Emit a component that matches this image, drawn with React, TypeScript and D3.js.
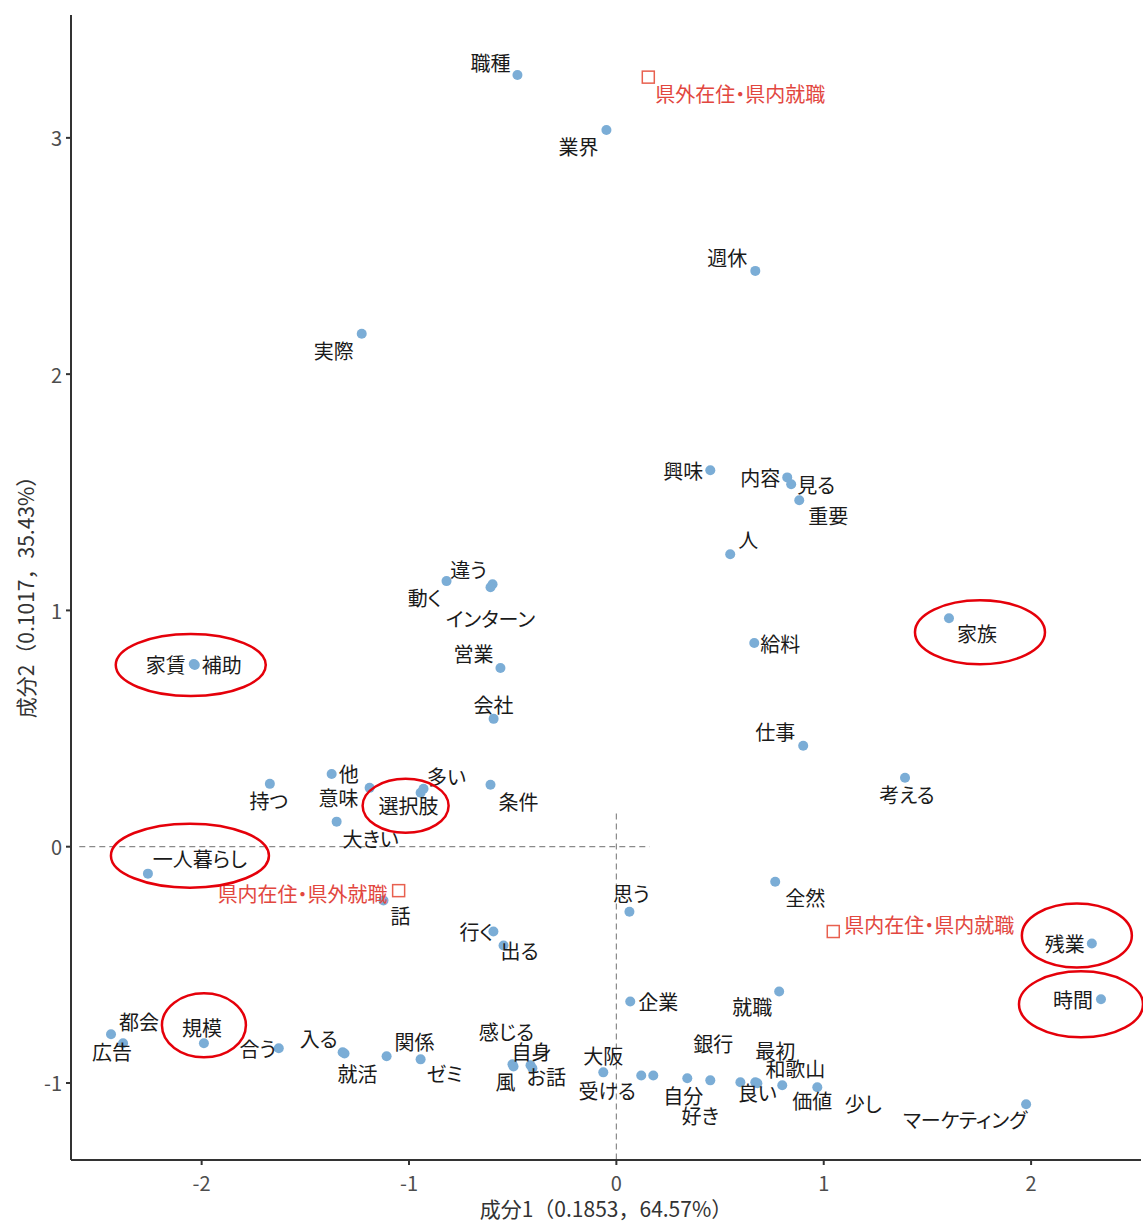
import React from "react";
import * as d3 from "d3";

// 抽出語（成分1, 成分2）
const words = [
  "職種", "業界", "週休", "実際", "興味", "内容", "見る", "重要", "人", "動く",
  "違う", "インターン", "営業", "会社", "給料", "家族", "家賃", "補助", "仕事", "考える",
  "持つ", "他", "意味", "選択肢", "多い", "条件", "大きい", "一人暮らし", "話", "思う",
  "全然", "残業", "時間", "行く", "出る", "企業", "就職", "広告", "都会", "規模",
  "合う", "入る", "就活", "関係", "ゼミ", "感じる", "風", "自身", "お話", "大阪",
  "受ける", "自分", "銀行", "好き", "良い", "最初", "和歌山", "価値", "少し", "マーケティング",
];
const dim1 = [
  -0.477, -0.048, 0.670, -1.228, 0.453, 0.824, 0.843, 0.882, 0.549, -0.819,
  -0.597, -0.607, -0.559, -0.592, 0.665, 1.604, -2.038, -2.033, 0.901, 1.392,
  -1.671, -1.373, -1.190, -0.944, -0.930, -0.607, -1.349, -2.259, -1.123, 0.063,
  0.766, 2.293, 2.337, -0.593, -0.544, 0.067, 0.785, -2.437, -2.379, -1.989,
  -1.628, -1.320, -1.311, -1.108, -0.944, -0.501, -0.496, -0.414, -0.405, -0.063,
  0.120, 0.178, 0.342, 0.453, 0.598, 0.670, 0.680, 0.800, 0.969, 1.976,
];
const dim2 = [
  3.266, 3.033, 2.437, 2.171, 1.593, 1.563, 1.534, 1.466, 1.238, 1.124,
  1.111, 1.098, 0.756, 0.541, 0.862, 0.967, 0.773, 0.769, 0.427, 0.292,
  0.266, 0.308, 0.249, 0.228, 0.245, 0.262, 0.106, -0.114, -0.228, -0.275,
  -0.148, -0.410, -0.646, -0.359, -0.418, -0.655, -0.613, -0.794, -0.832, -0.832,
  -0.853, -0.870, -0.875, -0.887, -0.900, -0.921, -0.930, -0.925, -0.938, -0.955,
  -0.968, -0.968, -0.980, -0.989, -0.997, -0.997, -1.001, -1.010, -1.018, -1.090,
];

// 外部変数
const groups = ["県外在住・県内就職", "県内在住・県外就職", "県内在住・県内就職"];
const groupDim1 = [0.154, -1.050, 1.046];
const groupDim2 = [3.257, -0.186, -0.359];

const xTicks = [-2, -1, 0, 1, 2];
const yTicks = [-1, 0, 1, 2, 3];

// ラベルのずらし（px）
const labelNudge: Record<string, [number, number]> = {
  職種: [-27, -13], 業界: [-28, 16], 週休: [-28, -13], 実際: [-28, 17], 興味: [-27, 0],
  内容: [-27, 0], 見る: [25, 0], 重要: [29, 15], 人: [18, -15], 動く: [-22, 16],
  違う: [-24, -15], インターン: [0, 31], 営業: [-27, -15], 会社: [0, -14], 給料: [26, 0],
  家族: [28, 15], 家賃: [-28, 0], 補助: [27, 0], 仕事: [-28, -14], 考える: [2, 17],
  持つ: [-1, 17], 他: [17, 0], 意味: [-31, 10], 選択肢: [-12, 13], 多い: [23, -12],
  条件: [28, 17], 大きい: [34, 17], 一人暮らし: [52, -15], 話: [17, 15], 思う: [2, -18],
  全然: [30, 16], 残業: [-27, 0], 時間: [-28, 0], 行く: [-17, 0], 出る: [16, 5],
  企業: [28, 0], 就職: [-27, 15], 広告: [1, 17], 都会: [16, -22], 規模: [-2, -16],
  合う: [-21, 0], 入る: [-24, -14], 就活: [13, 20], 関係: [28, -15], ゼミ: [24, 14],
  感じる: [-6, -33], 風: [-8, 15], 自身: [1, -14], お話: [14, 8], 大阪: [0, -17],
  受ける: [-34, 15], 自分: [30, 20], 銀行: [26, -35], 好き: [-10, 35], 良い: [17, 10],
  最初: [20, -32], 和歌山: [38, -15], 価値: [30, 15], 少し: [46, 16], マーケティング: [-61, 15],
};
const groupNudge: [number, number][] = [[92, 16], [-96, 3], [96, -7]];

// 赤い丸囲み
const circled: { word: string; dx: number; dy: number; rx: number; ry: number }[] = [
  { word: "家賃", dx: -3, dy: 1, rx: 75, ry: 31 },
  { word: "一人暮らし", dx: 42, dy: -18, rx: 79, ry: 32 },
  { word: "選択肢", dx: -15, dy: 13, rx: 43, ry: 27 },
  { word: "規模", dx: 0, dy: -18, rx: 42, ry: 32 },
  { word: "家族", dx: 31, dy: 14, rx: 65, ry: 32 },
  { word: "残業", dx: -15, dy: -8, rx: 55, ry: 32 },
  { word: "時間", dx: -20, dy: 5, rx: 62, ry: 33 },
];

const W = 1143;
const H = 1223;
const font = "'Noto Sans CJK JP', 'Noto Sans', sans-serif";

export default function App() {
  const x = d3.scaleLinear().domain([-2.63, 2.53]).range([71, 1141]);
  const y = d3.scaleLinear().domain([-1.326, 3.52]).range([1160, 15]);
  const pos = (w: string) => {
    const i = words.indexOf(w);
    return [x(dim1[i]), y(dim2[i])];
  };

  return (
    <div style={{ position: "absolute", left: 0, top: 0 }}>
      <svg width={W} height={H} style={{ display: "block", background: "#fff", fontFamily: font }}>
        {/* 原点の破線 */}
        <line x1={x(-2.59)} x2={x(0.16)} y1={y(0)} y2={y(0)} stroke="#8a8a8a" strokeWidth={1.2} strokeDasharray="6,4" />
        <line x1={x(0)} x2={x(0)} y1={y(0.14)} y2={y(-1.326)} stroke="#8a8a8a" strokeWidth={1.2} strokeDasharray="6,4" />

        {/* 軸 */}
        <line x1={x.range()[0]} x2={x.range()[1]} y1={y.range()[0]} y2={y.range()[0]} stroke="#333" strokeWidth={2} />
        <line x1={x.range()[0]} x2={x.range()[0]} y1={y.range()[0]} y2={y.range()[1]} stroke="#333" strokeWidth={2} />
        {xTicks.map(t => (
          <g key={"x" + t}>
            <line x1={x(t)} x2={x(t)} y1={y.range()[0]} y2={y.range()[0] + 5} stroke="#333" strokeWidth={2} />
            <text x={x(t)} y={y.range()[0] + 22} textAnchor="middle" dominantBaseline="central" fontSize={20} fill="#4d4d4d">{t}</text>
          </g>
        ))}
        {yTicks.map(t => (
          <g key={"y" + t}>
            <line x1={x.range()[0] - 5} x2={x.range()[0]} y1={y(t)} y2={y(t)} stroke="#333" strokeWidth={2} />
            <text x={x.range()[0] - 9} y={y(t)} textAnchor="end" dominantBaseline="central" fontSize={20} fill="#4d4d4d">{t}</text>
          </g>
        ))}
        <text x={606} y={1208} textAnchor="middle" dominantBaseline="central" fontSize={21} fill="#333">成分1（0.1853，64.57%）</text>
        <text transform={`translate(25, 592) rotate(-90)`} textAnchor="middle" dominantBaseline="central" fontSize={21} fill="#333">成分2（0.1017，35.43%）</text>

        {/* 語の点 */}
        {words.map((w, i) => (
          <circle key={"p" + w} cx={x(dim1[i])} cy={y(dim2[i])} r={5} fill="#7badd6" />
        ))}
        {groups.map((g, i) => (
          <rect key={"s" + g} x={x(groupDim1[i]) - 6} y={y(groupDim2[i]) - 6} width={12} height={12} fill="none" stroke="#e8604f" strokeWidth={1.5} />
        ))}

        {/* ラベル */}
        <g style={{ fontFeatureSettings: "'palt'" }}>
          {words.map((w, i) => {
            const [dx, dy] = labelNudge[w] || [0, -16];
            return (
              <text key={"l" + w} x={x(dim1[i]) + dx} y={y(dim2[i]) + dy} textAnchor="middle" dominantBaseline="central" fontSize={20} fill="#1a1a1a">{w}</text>
            );
          })}
          {groups.map((g, i) => (
            <text key={"g" + g} x={x(groupDim1[i]) + groupNudge[i][0]} y={y(groupDim2[i]) + groupNudge[i][1]} textAnchor="middle" dominantBaseline="central" fontSize={20} fill="#e2473f">{g}</text>
          ))}
        </g>

        {/* 丸囲み */}
        {circled.map(c => {
          const [cx, cy] = pos(c.word);
          return <ellipse key={"e" + c.word} cx={cx + c.dx} cy={cy + c.dy} rx={c.rx} ry={c.ry} fill="none" stroke="#e5000a" strokeWidth={2.5} />;
        })}
      </svg>
    </div>
  );
}
